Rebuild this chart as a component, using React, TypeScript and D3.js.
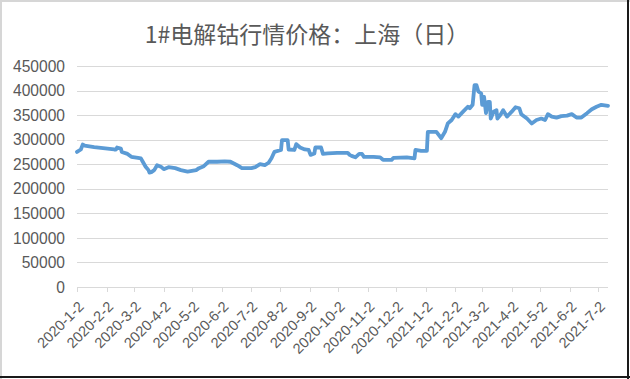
import React from "react";
import * as d3 from "d3";

const title = "1#电解钴行情价格：上海（日）";

const dates: string[] = [
  "2020-01-02","2020-01-06","2020-01-08","2020-01-10","2020-01-20","2020-02-10","2020-02-12","2020-02-13","2020-02-17","2020-02-18",
  "2020-02-24","2020-02-28","2020-03-06","2020-03-09","2020-03-11","2020-03-14","2020-03-17","2020-03-18","2020-03-20","2020-03-23",
  "2020-03-26","2020-03-30","2020-04-02","2020-04-07","2020-04-14","2020-04-20","2020-04-27","2020-05-06","2020-05-09","2020-05-14",
  "2020-05-19","2020-05-28","2020-06-05","2020-06-11","2020-06-16","2020-06-18","2020-06-23","2020-07-03","2020-07-07","2020-07-12",
  "2020-07-17","2020-07-21","2020-07-24","2020-07-27","2020-08-03","2020-08-04","2020-08-10","2020-08-11","2020-08-17","2020-08-19",
  "2020-08-23","2020-08-28","2020-09-01","2020-09-03","2020-09-07","2020-09-08","2020-09-14","2020-09-16","2020-09-21","2020-10-01",
  "2020-10-12","2020-10-14","2020-10-16","2020-10-20","2020-10-24","2020-10-27","2020-10-29","2020-11-08","2020-11-15","2020-11-18",
  "2020-11-27","2020-11-29","2020-12-13","2020-12-21","2020-12-22","2020-12-28","2021-01-03","2021-01-04","2021-01-13","2021-01-18",
  "2021-01-22","2021-01-25","2021-01-29","2021-02-02","2021-02-05","2021-02-10","2021-02-15","2021-02-17","2021-02-20","2021-02-22",
  "2021-02-24","2021-02-26","2021-03-01","2021-03-02","2021-03-04","2021-03-06","2021-03-08","2021-03-10","2021-03-11","2021-03-14",
  "2021-03-17","2021-03-18","2021-03-21","2021-03-24","2021-03-28","2021-04-02","2021-04-06","2021-04-10","2021-04-12","2021-04-18",
  "2021-04-23","2021-04-28","2021-05-03","2021-05-07","2021-05-10","2021-05-14","2021-05-19","2021-05-24","2021-05-30","2021-06-04",
  "2021-06-09","2021-06-14","2021-06-20","2021-06-25","2021-06-30","2021-07-05","2021-07-12",
];

const prices: number[] = [
  275000,280000,290000,288000,285000,280000,280000,284000,282000,275000,
  271000,265000,263000,262000,255000,245000,238000,233000,234000,238000,
  248000,245000,240000,244000,242000,238000,235000,238000,242000,246000,
  255000,255000,256000,255000,250000,248000,242000,242000,244000,250000,
  248000,253000,262000,275000,279000,299000,299000,280000,279000,291000,
  284000,280000,279000,269000,272000,284000,284000,271000,272000,273000,
  273000,269000,267000,264000,271000,271000,265000,265000,264000,259000,
  259000,263000,264000,262000,279000,277000,277000,316000,316000,303000,
  316000,333000,340000,352000,347000,357000,367000,364000,371000,411000,
  411000,398000,394000,371000,387000,354000,377000,377000,343000,357000,
  360000,343000,350000,360000,347000,357000,366000,364000,352000,343000,
  333000,340000,343000,340000,352000,347000,345000,348000,349000,352000,
  345000,345000,354000,362000,367000,371000,369000,
];

const tickDates: string[] = [
  "2020-01-02","2020-02-02","2020-03-02","2020-04-02","2020-05-02","2020-06-02","2020-07-02","2020-08-02","2020-09-02","2020-10-02",
  "2020-11-02","2020-12-02","2021-01-02","2021-02-02","2021-03-02","2021-04-02","2021-05-02","2021-06-02","2021-07-02",
];
const tickLabels: string[] = [
  "2020-1-2","2020-2-2","2020-3-2","2020-4-2","2020-5-2","2020-6-2","2020-7-2","2020-8-2","2020-9-2","2020-10-2",
  "2020-11-2","2020-12-2","2021-1-2","2021-2-2","2021-3-2","2021-4-2","2021-5-2","2021-6-2","2021-7-2",
];
const yTicks: number[] = [0, 50000, 100000, 150000, 200000, 250000, 300000, 350000, 400000, 450000];

const W = 630, H = 379;
const left = 77, right = 608, top = 66, bottom = 287;

export default function App() {
  const parse = d3.timeParse("%Y-%m-%d");
  const data = dates.map((d, i) => ({ date: parse(d) as Date, v: prices[i] }));
  const x = d3.scaleTime()
    .domain([parse(dates[0]) as Date, parse(dates[dates.length - 1]) as Date])
    .range([left, right]);
  const y = d3.scaleLinear().domain([0, 450000]).range([bottom, top]);
  const line = d3.line<{ date: Date; v: number }>()
    .x((d) => x(d.date))
    .y((d) => y(d.v));
  const font = "'Liberation Sans', Arial, sans-serif";
  const textColor = "#595959";
  return (
    <svg width={W} height={H} style={{ position: "absolute", left: 0, top: 0 }}>
      <rect x={0} y={0} width={W} height={H} fill="#fff" />
      <line x1={1} y1={0} x2={1} y2={H} stroke="#d6d6d6" strokeWidth={2} />
      <line x1={0} y1={1} x2={W} y2={1} stroke="#d6d6d6" strokeWidth={2} />
      <line x1={628} y1={0} x2={628} y2={H} stroke="#1a1a1a" strokeWidth={2} />
      <line x1={0} y1={377} x2={W} y2={377} stroke="#1a1a1a" strokeWidth={2} />
      <text x={307} y={43} textAnchor="middle" fontFamily="'Noto Sans CJK SC', sans-serif" fontSize={23} fill={textColor}>
        {title}
      </text>
      {yTicks.map((t) => (
        <g key={t}>
          {t > 0 && (
            <line x1={left} x2={right} y1={Math.round(y(t)) + 0.5} y2={Math.round(y(t)) + 0.5} stroke="#d9d9d9" strokeWidth={1} />
          )}
          <text x={65} y={y(t)} dy="0.36em" textAnchor="end" fontFamily={font} fontSize={15.6} fill={textColor}>
            {t}
          </text>
        </g>
      ))}
      <line x1={left} x2={right} y1={Math.round(bottom) + 0.5} y2={Math.round(bottom) + 0.5} stroke="#d9d9d9" strokeWidth={1} />
      {tickDates.map((td, i) => {
        const tx = x(parse(td) as Date);
        return (
          <g key={td}>
            <line x1={Math.round(tx) + 0.5} x2={Math.round(tx) + 0.5} y1={bottom} y2={bottom + 5} stroke="#d9d9d9" strokeWidth={1} />
            <text
              transform={`translate(${tx + 4},${bottom + 17}) rotate(-45)`}
              textAnchor="end"
              dy="0.35em"
              fontFamily={font}
              fontSize={14.6}
              fill={textColor}
            >
              {tickLabels[i]}
            </text>
          </g>
        );
      })}
      <path d={line(data) ?? ""} fill="none" stroke="#5B9BD5" strokeWidth={3.8} strokeLinejoin="round" strokeLinecap="round" />
    </svg>
  );
}
